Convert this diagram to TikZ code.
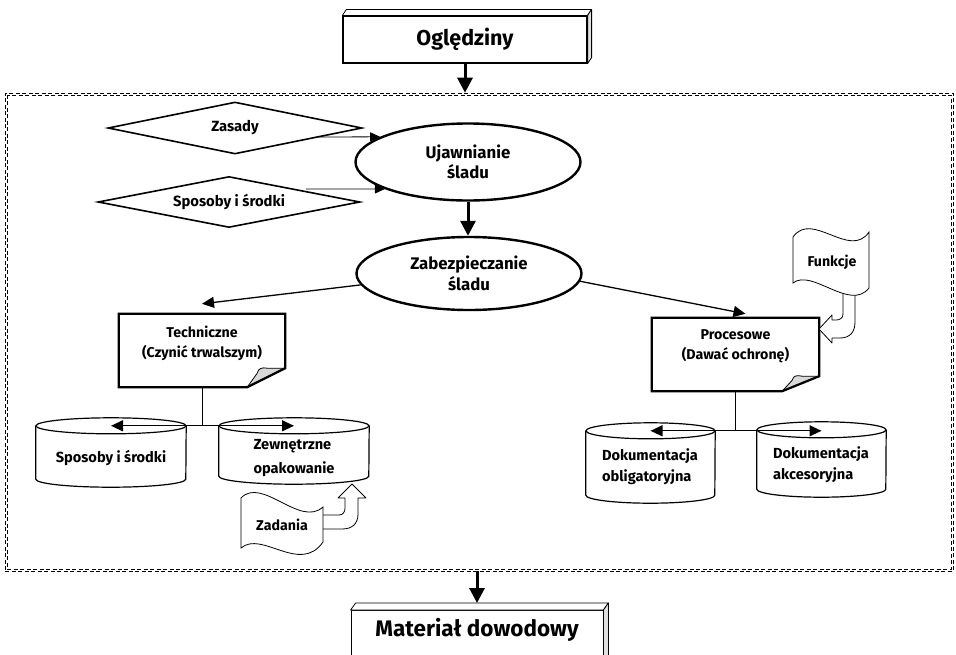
\documentclass[tikz,border=0pt]{standalone}
\usepackage{fontspec}
\setmainfont{Fira Sans}
\usetikzlibrary{shapes.geometric,arrows.meta,calc}

\begin{document}
\begin{tikzpicture}[x=1pt,y=-1pt,
    areabox/.style={draw, line width=0.6pt, dash pattern=on 4pt off 2.5pt, minimum width=948pt, minimum height=478pt, inner sep=0pt},
    areain/.style={line width=0.6pt, dash pattern=on 4pt off 2.5pt},
    titlebox/.style={draw, fill=white, line width=1.2pt, inner sep=0pt},
    faceline/.style={line width=0.8pt, line join=round},
    cond/.style={diamond, draw, line width=1.6pt, aspect=4.9, inner sep=0pt, font=\fontsize{14.8}{17}\selectfont\bfseries},
    stage/.style={ellipse, draw, line width=2.4pt, minimum width=225pt, inner sep=0pt, align=center, font=\fontsize{16.8}{20.5}\selectfont\bfseries},
    notebox/.style={minimum width=166pt, minimum height=73pt, inner sep=0pt},
    notetxt/.style={align=center, inner sep=0pt, font=\fontsize{14.2}{20}\selectfont\bfseries},
    notebd/.style={line width=2.2pt, line join=miter},
    flap/.style={fill=gray!30, line width=0.8pt, line join=round},
    drum/.style={inner sep=0pt},
    drumtxt/.style={inner sep=0pt, align=left, font=\fontsize{14.6}{21}\selectfont\bfseries},
    drumbd/.style={line width=1.2pt},
    flagbd/.style={draw, fill=white, line width=0.8pt},
    flagtxt/.style={inner sep=0pt, font=\fontsize{14.2}{17}\selectfont\bfseries},
    hollow/.style={draw, fill=white, line width=0.8pt, line join=round},
    bigarrow/.style={line width=3pt, -{Triangle[length=15pt,width=15pt]}},
    midarrow/.style={line width=1.3pt, -{Triangle[length=12pt,width=11pt]}},
    thinarrow/.style={line width=0.8pt, -{Triangle[length=10pt,width=9pt]}},
    junction/.style={line width=1pt}
  ]
  \useasboundingbox (0,0) rectangle (956,654);
  % \draw[step=50,gray!30,very thin] (0,0) grid (956,654);

  \node[areabox] (area) at (479,332) {};
  \draw[areain] ([shift={(2.2pt,-2.2pt)}]area.north west) rectangle ([shift={(-2.2pt,2.2pt)}]area.south east);

  % top and bottom blocks
  \node[titlebox, minimum width=244pt, minimum height=47pt, font=\fontsize{21.5}{26}\selectfont\bfseries] (ogl) at (465,39.5) {Oględziny};
  \draw[faceline, fill=white] (ogl.north west) -- ++(4,-6) -- ([shift={(4,-6)}]ogl.north east) -- (ogl.north east) -- cycle;
  \draw[faceline, fill=gray!25] (ogl.north east) -- ++(4,-6) -- ([shift={(4,-6)}]ogl.south east) -- (ogl.south east) -- cycle;

  \node[titlebox, line width=0.8pt, anchor=north, minimum width=252pt, inner ysep=4pt, text height=22pt, text depth=34pt, font=\fontsize{22.5}{25}\selectfont\bfseries] (mat) at (477,610) {Materiał dowodowy};
  \draw[faceline, fill=white] (mat.north west) -- ++(5,-7) -- ([shift={(5,-7)}]mat.north east) -- (mat.north east) -- cycle;
  \draw[faceline, fill=gray!25] (mat.north east) -- ++(5,-7) -- ([shift={(5,-7)}]mat.south east) -- (mat.south east) -- cycle;

  % conditions and stages
  \node[cond, minimum width=254pt, minimum height=52pt] (zas) at (235,128) {Zasady};
  \node[cond, minimum width=262pt, minimum height=51pt] (spo) at (229,202) {Sposoby i środki};
  \node[stage, minimum height=77pt] (ujaw) at (468,162) {Ujawnianie\\śladu};
  \node[stage, minimum height=73pt] (zabe) at (469,273.5) {Zabezpieczanie\\śladu};

  % notes
  \node[notebox] (tech) at (202,350.5) {};
  \node[notetxt] (techT) at (202,343) {Techniczne\\(Czynić trwalszym)};
  \draw[flap] ([xshift=-38pt]tech.south east) -- ([shift={(-28pt,14pt)}]tech.south east)
    .. controls ([shift={(-27pt,19pt)}]tech.south east) and ([shift={(-23pt,20pt)}]tech.south east) .. ([shift={(-18pt,19pt)}]tech.south east)
    -- ([yshift=19pt]tech.south east) -- cycle;
  \draw[notebd] (tech.north west) -- (tech.north east) -- ([yshift=19pt]tech.south east) -- ([xshift=-38pt]tech.south east) -- (tech.south west) -- cycle;

  \node[notebox, minimum width=167pt] (proc) at (735.5,354.5) {};
  \node[notetxt] (procT) at (735.5,346.5) {Procesowe\\(Dawać ochronę)};
  \draw[flap] ([xshift=-37pt]proc.south east) -- ([shift={(-27pt,11pt)}]proc.south east)
    .. controls ([shift={(-26pt,16pt)}]proc.south east) and ([shift={(-22pt,16pt)}]proc.south east) .. ([shift={(-17pt,15pt)}]proc.south east)
    -- ([yshift=15pt]proc.south east) -- cycle;
  \draw[notebd] (proc.north west) -- (proc.north east) -- ([yshift=15pt]proc.south east) -- ([xshift=-37pt]proc.south east) -- (proc.south west) -- cycle;

  % cylinders
  \node[drum, minimum width=150pt, minimum height=53pt] (spoC) at (111,452.5) {};
  \node[drum, minimum width=150pt, minimum height=50pt] (zewC) at (294,451) {};
  \node[drum, minimum width=129pt, minimum height=64pt] (dokO) at (650.5,463) {};
  \node[drum, minimum width=129pt, minimum height=59pt] (dokA) at (821.5,459.5) {};
  \foreach \c/\r in {spoC/75,zewC/75,dokO/64.5,dokA/64.5}{
    \draw[drumbd] (\c.north west) -- (\c.south west) arc[start angle=180, end angle=0, x radius=\r, y radius=8] -- (\c.north east);
    \draw[drumbd] (\c.north) ellipse[x radius=\r, y radius=8];
  }
  \node[drumtxt] (spoT) at (111,458) {Sposoby i środki};
  \node[drumtxt, font=\fontsize{14.6}{24}\selectfont\bfseries] (zewT) at (294,458) {Zewnętrzne\\opakowanie};
  \node[drumtxt] (dokOT) at (650,467) {Dokumentacja\\obligatoryjna};
  \node[drumtxt] (dokAT) at (821,464.5) {Dokumentacja\\akcesoryjna};

  % hollow arrows and flags
  \draw[hollow] (843,290) -- (843,314) .. controls (843,318) and (840,320) .. (836,320) -- (832,320) -- (832,315) -- (819,329)
    -- (832,343) -- (832,338) -- (840,338) .. controls (850,338) and (855,332) .. (855,322) -- (855,290) -- cycle;
  \draw[flagbd] (793,237) .. controls (812,210) and (850,260) .. (869,232) -- (869,288)
    .. controls (850,312) and (812,268) .. (793,283) -- cycle;
  \node[flagtxt] (funk) at (832,262) {Funkcje};

  \draw[hollow] (318,515) -- (339,515) .. controls (343,515) and (345,512) .. (345,508) -- (345,498) -- (338,498) -- (352,484)
    -- (366,498) -- (358,498) -- (358,514) .. controls (358,524) and (352,529) .. (342,529) -- (318,529) -- cycle;
  \draw[flagbd] (241,498) .. controls (262,476) and (300,528) .. (323,507) -- (323,542)
    .. controls (300,575) and (262,530) .. (241,548) -- cycle;
  \node[flagtxt] (zad) at (282,525) {Zadania};

  % connectors
  \draw[bigarrow] (ogl.south) -- (ogl.south |- area.north);
  \draw[thinarrow] ([shift={(-44,9)}]zas.east) -- (ujaw.164);
  \draw[thinarrow] ([shift={(-55,-13)}]spo.east) -- (ujaw.198);
  \draw[bigarrow] (ujaw.south) -- (ujaw.south |- zabe.north);
  \draw[midarrow] (zabe.186) -- ([yshift=10pt]tech.north);
  \draw[midarrow] (zabe.356) -- ([shift={(10pt,4pt)}]proc.north);

  \coordinate (jT) at (tech.south |- spoC.north);
  \draw[junction] (tech.south) -- (jT);
  \draw[midarrow] (jT) -- (jT -| spoC.north);
  \draw[midarrow] (jT) -- (jT -| zewC.north);

  \coordinate (jP) at (proc.south |- dokO.north);
  \draw[junction] (proc.south) -- (jP);
  \draw[midarrow] (jP) -- (jP -| dokO.north);
  \draw[midarrow] (jP) -- (jP -| dokA.north);

  \draw[bigarrow] (mat.north |- area.south) -- ([yshift=7pt]mat.north);
\end{tikzpicture}
\end{document}
